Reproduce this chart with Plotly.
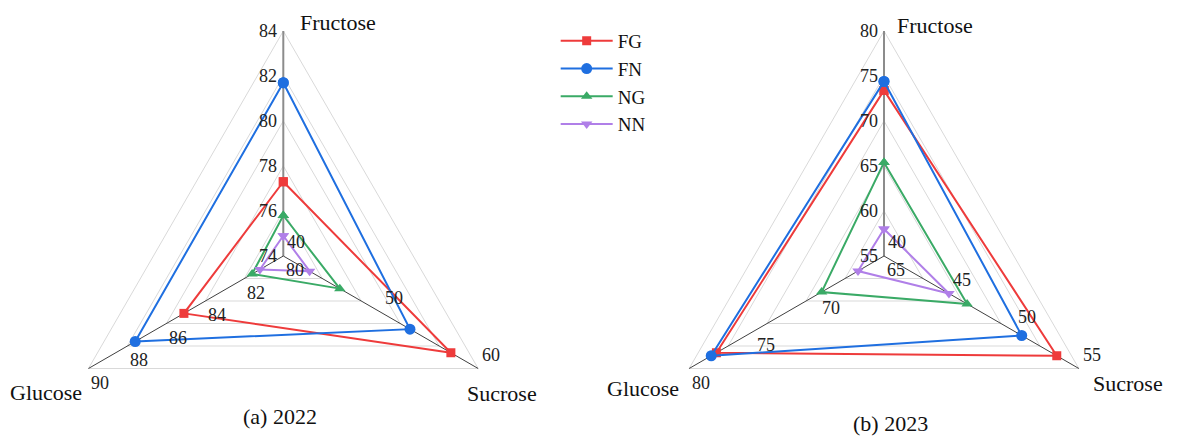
import math
import plotly.graph_objects as go

# ---------------- data ----------------
categories = ["Fructose", "Glucose", "Sucrose"]
series_names = ["FG", "FN", "NG", "NN"]

# 2022 values (Fructose, Glucose, Sucrose)
fg_2022 = [77.3, 85.1, 57.2]
fn_2022 = [81.7, 87.6, 53.0]
ng_2022 = [75.8, 81.6, 45.8]
nn_2022 = [74.9, 81.2, 42.7]

# 2023 values (Fructose, Glucose, Sucrose)
fg_2023 = [73.4, 77.9, 53.3]
fn_2023 = [74.4, 78.3, 50.6]
ng_2023 = [65.4, 69.8, 46.4]
nn_2023 = [58.0, 67.0, 45.0]

# axis scales per category
lo_2022 = [74, 80, 40]
hi_2022 = [84, 90, 60]
lo_2023 = [55, 65, 40]
hi_2023 = [80, 80, 55]

fru_ticks_2022 = [74, 76, 78, 80, 82, 84]
glu_ticks_2022 = [80, 82, 84, 86, 88, 90]
suc_ticks_2022 = [40, 50, 60]
fru_ticks_2023 = [55, 60, 65, 70, 75, 80]
glu_ticks_2023 = [65, 70, 75, 80]
suc_ticks_2023 = [40, 45, 50, 55]

grid_levels = [0.2, 0.4, 0.6, 0.8, 1.0]
panel_titles = ["(a) 2022", "(b) 2023"]

# ---------------- style ----------------
FONT = "Liberation Serif, Times New Roman, Tinos, DejaVu Serif, serif"
ANGLES = [90, 210, 330]
colors = ["#EE3B3B", "#1F6FE0", "#3AAA66", "#B07FE8"]
symbols = ["square", "circle", "triangle-up", "triangle-down"]
msizes = [9, 11, 10, 10]


def pos(frac, k):
    a = math.radians(ANGLES[k])
    return frac * math.cos(a), frac * math.sin(a)


def to_xy(vals, lo, hi):
    xs, ys = [], []
    for k, v in enumerate(vals):
        f = (v - lo[k]) / (hi[k] - lo[k])
        x, y = pos(f, k)
        xs.append(x)
        ys.append(y)
    return xs + xs[:1], ys + ys[:1]


fig = go.Figure()
shapes = []
annotations = []

panels = [
    dict(data=[fg_2022, fn_2022, ng_2022, nn_2022], lo=lo_2022, hi=hi_2022,
         ticks=[fru_ticks_2022, glu_ticks_2022, suc_ticks_2022], xa="x", ya="y",
         title=panel_titles[0], name_off=[(55, -9), (-42, 24), (24, 25)], title_off=(-3, 160)),
    dict(data=[fg_2023, fn_2023, ng_2023, nn_2023], lo=lo_2023, hi=hi_2023,
         ticks=[fru_ticks_2023, glu_ticks_2023, suc_ticks_2023], xa="x2", ya="y2",
         title=panel_titles[1], name_off=[(51, -6), (-46, 20), (49, 15)], title_off=(6, 167)),
]

for p_i, P in enumerate(panels):
    xa, ya = P["xa"], P["ya"]
    # grid rings
    for g in grid_levels:
        pts = [pos(g, k) for k in range(3)]
        path = "M {} {} L {} {} L {} {} Z".format(pts[0][0], pts[0][1], pts[1][0], pts[1][1], pts[2][0], pts[2][1])
        shapes.append(dict(type="path", path=path, xref=xa, yref=ya, layer="below",
                           line=dict(color="#D9D9D9", width=1)))
    # axis spokes
    for k in range(3):
        vx, vy = pos(1.0, k)
        shapes.append(dict(type="line", x0=0, y0=0, x1=vx, y1=vy, xref=xa, yref=ya, layer="below",
                           line=dict(color="#8C8C8C" if k == 0 else "#404040", width=2 if k == 0 else 1)))
    # tick labels
    for k in range(3):
        lo, hi = P["lo"][k], P["hi"][k]
        for t in P["ticks"][k]:
            f = (t - lo) / (hi - lo)
            x, y = pos(f, k)
            if k == 0:
                kw = dict(xanchor="right", xshift=-4, yshift=0)
            elif k == 1:
                kw = dict(xanchor="center", xshift=12, yshift=-14)
            else:
                kw = dict(xanchor="center", xshift=13, yshift=14)
            annotations.append(dict(x=x, y=y, xref=xa, yref=ya, text=str(t), showarrow=False,
                                    yanchor="middle", font=dict(family=FONT, size=18, color="#222222"), **kw))
    # category names
    for k, cname in enumerate(categories):
        vx, vy = pos(1.0, k)
        dx, dy = P["name_off"][k]
        annotations.append(dict(x=vx, y=vy, xref=xa, yref=ya, text=cname, showarrow=False,
                                xanchor="center", yanchor="middle", xshift=dx, yshift=-dy,
                                font=dict(family=FONT, size=22, color="#111111")))
    # panel title
    tx, ty = P["title_off"]
    annotations.append(dict(x=0, y=0, xref=xa, yref=ya, text=P["title"], showarrow=False,
                            xanchor="center", yanchor="middle", xshift=tx, yshift=-ty,
                            font=dict(family=FONT, size=22, color="#111111")))
    # series
    for s_i, vals in enumerate(P["data"]):
        xs, ys = to_xy(vals, P["lo"], P["hi"])
        fig.add_trace(go.Scatter(
            x=xs, y=ys, xaxis=xa, yaxis=ya, mode="lines+markers",
            name=series_names[s_i], legendgroup=series_names[s_i], showlegend=(p_i == 0),
            line=dict(color=colors[s_i], width=2),
            marker=dict(symbol=symbols[s_i], size=msizes[s_i], color=colors[s_i]),
            hovertemplate="%{fullData.name}<extra></extra>",
        ))

# page body has an 8px margin; the figure is sized/positioned to compensate
PAGE = 8
W, H = 1177 - PAGE, 445 - PAGE
S = 225.0  # px per unit radius
c1x, c2x, cy = 283.3 - PAGE, 884.0 - PAGE, 256.0 - PAGE
half = W / 2.0

axis_common = dict(visible=False, showgrid=False, zeroline=False, fixedrange=True)
fig.update_layout(
    width=W, height=H,
    margin=dict(l=0, r=0, t=0, b=0),
    paper_bgcolor="white", plot_bgcolor="white",
    xaxis=dict(domain=[0, 0.5], range=[-c1x / S, (half - c1x) / S], **axis_common),
    yaxis=dict(domain=[0, 1], range=[-(H - cy) / S, cy / S], **axis_common),
    xaxis2=dict(domain=[0.5, 1], range=[(half - c2x) / S, (W - c2x) / S], **axis_common),
    yaxis2=dict(domain=[0, 1], range=[-(H - cy) / S, cy / S], **axis_common),
    shapes=shapes,
    annotations=annotations,
    showlegend=True,
    legend=dict(x=0.4685, y=0.968, xanchor="left", yanchor="top",
                font=dict(family=FONT, size=19, color="#111111"),
                bgcolor="rgba(0,0,0,0)", itemwidth=52, tracegroupgap=0),
    font=dict(family=FONT),
)

fig.write_html("out.html")
